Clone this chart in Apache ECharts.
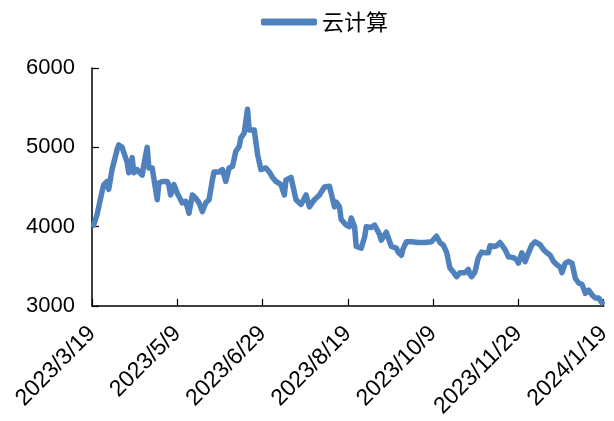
<!DOCTYPE html>
<html>
<head>
<meta charset="utf-8">
<script src="https://cdn.jsdelivr.net/npm/echarts@6/dist/echarts.min.js"></script>
<style>html,body{margin:0;padding:0;background:#fff;}#c{width:614px;height:421px;}</style>
</head>
<body>
<div id="c"></div>
<script>
const seriesName = '云计算';
const startDate = '2023-03-19';
const endDate = '2024-01-19';
const yTicks = [3000, 4000, 5000, 6000];
const dates = [
'2023-03-20','2023-03-22','2023-03-25','2023-03-26','2023-03-28','2023-03-29','2023-03-31',
'2023-04-03','2023-04-04','2023-04-06','2023-04-07','2023-04-09','2023-04-10','2023-04-12','2023-04-13','2023-04-15','2023-04-18','2023-04-19','2023-04-21','2023-04-22','2023-04-24','2023-04-25','2023-04-27','2023-04-28','2023-04-30',
'2023-05-03','2023-05-04','2023-05-05','2023-05-07','2023-05-09','2023-05-10','2023-05-12','2023-05-14','2023-05-16','2023-05-18','2023-05-20','2023-05-22','2023-05-24','2023-05-26','2023-05-28','2023-05-29','2023-05-30','2023-05-31',
'2023-06-03','2023-06-05','2023-06-07','2023-06-09','2023-06-11','2023-06-13','2023-06-15','2023-06-16','2023-06-18','2023-06-20','2023-06-21','2023-06-24','2023-06-25','2023-06-26','2023-06-28',
'2023-07-01','2023-07-03','2023-07-05','2023-07-07','2023-07-10','2023-07-12','2023-07-13','2023-07-16','2023-07-19','2023-07-22','2023-07-25','2023-07-27','2023-07-30',
'2023-08-02','2023-08-05','2023-08-08','2023-08-11','2023-08-12','2023-08-14','2023-08-15','2023-08-18','2023-08-20','2023-08-21','2023-08-23','2023-08-24','2023-08-27','2023-08-29','2023-08-30',
'2023-09-02','2023-09-04','2023-09-07','2023-09-08','2023-09-11','2023-09-12','2023-09-14','2023-09-17','2023-09-18','2023-09-20','2023-09-21','2023-09-23','2023-09-24','2023-09-26','2023-09-30',
'2023-10-04','2023-10-08','2023-10-11','2023-10-13','2023-10-15','2023-10-17','2023-10-19','2023-10-21','2023-10-23','2023-10-25','2023-10-28','2023-10-30','2023-10-31',
'2023-11-01','2023-11-03','2023-11-05','2023-11-07','2023-11-09','2023-11-11','2023-11-12','2023-11-14','2023-11-16','2023-11-18','2023-11-19','2023-11-21','2023-11-23','2023-11-26','2023-11-28','2023-11-29',
'2023-12-01','2023-12-02','2023-12-03','2023-12-05','2023-12-07','2023-12-09','2023-12-10','2023-12-12','2023-12-14','2023-12-16','2023-12-18','2023-12-20','2023-12-22','2023-12-24','2023-12-25','2023-12-27','2023-12-29','2023-12-31',
'2024-01-02','2024-01-04','2024-01-06','2024-01-08','2024-01-10','2024-01-12','2024-01-14','2024-01-16','2024-01-17','2024-01-18'
];
const values = [
4020,4150,4440,4530,4570,4470,4720,
4970,5030,5000,5010,4810,4680,4870,4680,4720,4650,4780,5000,4740,4740,4720,4340,4550,4570,
4570,4520,4400,4530,4420,4380,4300,4320,4170,4400,4360,4300,4190,4300,4340,4340,4590,4690,
4690,4720,4570,4740,4760,4950,5010,5120,5180,5480,5220,5220,5200,4910,4720,
4740,4690,4620,4570,4530,4400,4590,4620,4340,4280,4400,4250,4340,
4400,4500,4510,4250,4310,4250,4090,4020,4000,4110,4000,3750,3730,3870,4000,
3990,4020,3900,3830,3930,3870,3750,3730,3680,3640,3720,3810,3800,3810,3800,
3800,3810,3880,3800,3770,3680,3480,3430,3370,3420,3420,3460,3400,
3370,3430,3610,3680,3670,3670,3760,3750,3760,3800,3780,3710,3620,3610,3580,3540,
3670,3680,3560,3670,3770,3810,3830,3770,3710,3670,3640,3560,3520,3490,3420,3540,3560,3540,
3350,3290,3270,3160,3200,3140,3100,3100,3080,3040
];

const DAY = 86400000;
function parse(s){const p=s.split('-').map(Number);return Date.UTC(p[0],p[1]-1,p[2]);}
const t0 = parse(startDate);
const span = Math.round((parse(endDate)-t0)/DAY);
function dayOf(s){return Math.round((parse(s)-t0)/DAY);}
function fmt(d){const dt=new Date(t0+d*DAY);return dt.getUTCFullYear()+'/'+(dt.getUTCMonth()+1)+'/'+dt.getUTCDate();}
const data = dates.map((d,i)=>[dayOf(d), values[i]]);

const chart = echarts.init(document.getElementById('c'), null, {renderer:'canvas'});
chart.setOption({
  animation:false,
  legend:{
    top:6, left:256,
    itemWidth:56, itemHeight:7, itemGap:6,
    textStyle:{fontFamily:'Noto Sans CJK SC', fontSize:22, color:'#000'},
    data:[{name:seriesName, icon:'roundRect'}]
  },
  grid:{left:92, right:10, top:68, bottom:115, containLabel:false},
  xAxis:{
    type:'value', min:0, max:span, interval:51,
    axisLine:{lineStyle:{color:'#000', width:1.5}},
    axisTick:{inside:true, length:7, lineStyle:{color:'#000', width:1.2}},
    splitLine:{show:false},
    axisLabel:{
      rotate:45, fontFamily:'Liberation Sans', fontSize:23, color:'#000', margin:24,
      formatter:v=>fmt(v)
    }
  },
  yAxis:{
    type:'value', min:yTicks[0], max:yTicks[yTicks.length-1], interval:1000,
    axisLine:{show:true, lineStyle:{color:'#000', width:1.5}},
    axisTick:{show:true, inside:true, length:7, lineStyle:{color:'#000', width:1.2}},
    splitLine:{show:false},
    axisLabel:{fontFamily:'Liberation Sans', fontSize:22, color:'#000', margin:17, formatter:v=>String(v)}
  },
  series:[{
    name:seriesName, type:'line', data:data, showSymbol:false, symbol:'none',
    lineStyle:{color:'#4f81bd', width:5.5, cap:'round', join:'round'},
    itemStyle:{color:'#4f81bd'}
  }]
});
</script>
</body>
</html>
